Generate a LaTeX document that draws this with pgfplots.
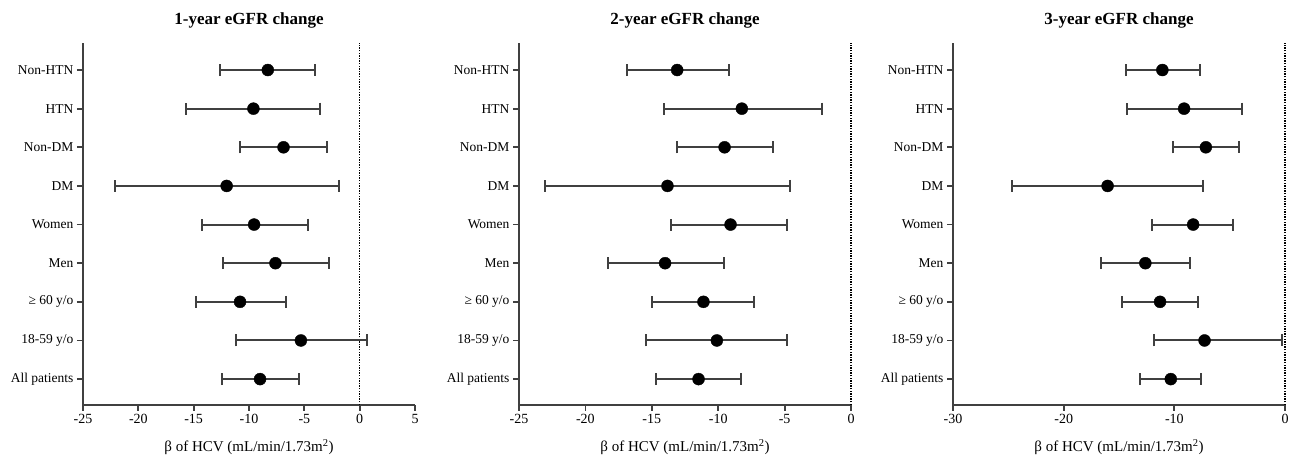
\documentclass[border=0pt]{standalone}
\usepackage{fontspec}
\setmainfont{Liberation Serif}
\usepackage{pgfplots}
\usepackage{pgfplotstable}
\pgfplotsset{compat=1.18}

% y: 0 = All patients ... 8 = Non-HTN ; est, lower, upper
\pgfplotstableread{
y est lo hi
8 -8.30 -12.62 -4.02
7 -9.60 -15.73 -3.59
6 -6.88 -10.81 -2.99
5 -12.02 -22.13 -1.87
4 -9.54 -14.22 -4.71
3 -7.61 -12.35 -2.78
2 -10.81 -14.82 -6.70
1 -5.31 -11.20 0.69
0 -9.00 -12.41 -5.50
}\tA
\pgfplotstableread{
y est lo hi
8 -13.09 -16.88 -9.20
7 -8.22 -14.10 -2.19
6 -9.52 -13.12 -5.90
5 -13.82 -23.02 -4.60
4 -9.07 -13.52 -4.80
3 -14.00 -18.29 -9.57
2 -11.11 -15.00 -7.29
1 -10.10 -15.40 -4.80
0 -11.48 -14.67 -8.29
}\tB
\pgfplotstableread{
y est lo hi
8 -11.08 -14.40 -7.70
7 -9.12 -14.31 -3.89
6 -7.15 -10.11 -4.20
5 -16.03 -24.63 -7.40
4 -8.30 -11.98 -4.68
3 -12.62 -16.60 -8.60
2 -11.29 -14.70 -7.88
1 -7.27 -11.80 -0.24
0 -10.32 -13.10 -7.61
}\tC

\definecolor{barc}{HTML}{404040}

\pgfplotsset{forest/.style={
  scale only axis, width=332pt, height=362pt,
  anchor=south west, clip=false,
  axis x line*=bottom, axis y line*=left,
  axis line style={barc, line width=1.8pt},
  ymin=-0.67, ymax=8.7, ytick={0,...,8},
  yticklabels={All patients,18-59 y/o,≥ 60 y/o,Men,Women,DM,Non-DM,HTN,Non-HTN},
  tick align=outside, major tick length=6pt,
  tick style={barc, line width=1.8pt},
  yticklabel style={font=\fontsize{13.5}{15}\selectfont},
  xticklabel style={font=\fontsize{14}{16}\selectfont},
  /pgf/number format/assume math mode=true,
  title style={font=\fontsize{17}{20}\selectfont\bfseries, at={(0.5,1)}, anchor=base, yshift=12pt},
  xlabel={β of HCV (mL/min/1.73m\textsuperscript{2})},
  xlabel style={font=\fontsize{15}{17}\selectfont, at={(0.5,0)}, anchor=base, yshift=-47pt},
}}
\pgfplotsset{pts/.style={only marks, mark=*, mark size=6pt, black,
  error bars/.cd, x dir=both, x explicit,
  error bar style={line width=2pt, barc},
  error mark options={rotate=90, line width=2pt, barc, mark size=6pt}}}

\begin{document}
\begin{tikzpicture}
\path[use as bounding box] (0pt,0pt) rectangle (1299pt,457pt);

\begin{axis}[forest, at={(83pt,52pt)}, title={1-year eGFR change},
  xmin=-25, xmax=5, xtick={-25,-20,...,5}]
\addplot[black, line width=1.5pt, dash pattern=on 1.3pt off 1.3pt] coordinates {(0,-0.67) (0,8.7)};
\addplot[pts] table[x=est, y=y, x error plus expr=\thisrow{hi}-\thisrow{est}, x error minus expr=\thisrow{est}-\thisrow{lo}] {\tA};
\end{axis}

\begin{axis}[forest, at={(519pt,52pt)}, title={2-year eGFR change},
  xmin=-25, xmax=0, xtick={-25,-20,...,0}]
\addplot[black, line width=1.5pt, dash pattern=on 1.3pt off 1.3pt] coordinates {(0,-0.67) (0,8.7)};
\addplot[pts] table[x=est, y=y, x error plus expr=\thisrow{hi}-\thisrow{est}, x error minus expr=\thisrow{est}-\thisrow{lo}] {\tB};
\end{axis}

\begin{axis}[forest, at={(953pt,52pt)}, title={3-year eGFR change},
  xmin=-30, xmax=0, xtick={-30,-20,...,0}]
\addplot[black, line width=1.5pt, dash pattern=on 1.3pt off 1.3pt] coordinates {(0,-0.67) (0,8.7)};
\addplot[pts] table[x=est, y=y, x error plus expr=\thisrow{hi}-\thisrow{est}, x error minus expr=\thisrow{est}-\thisrow{lo}] {\tC};
\end{axis}
\end{tikzpicture}
\end{document}
